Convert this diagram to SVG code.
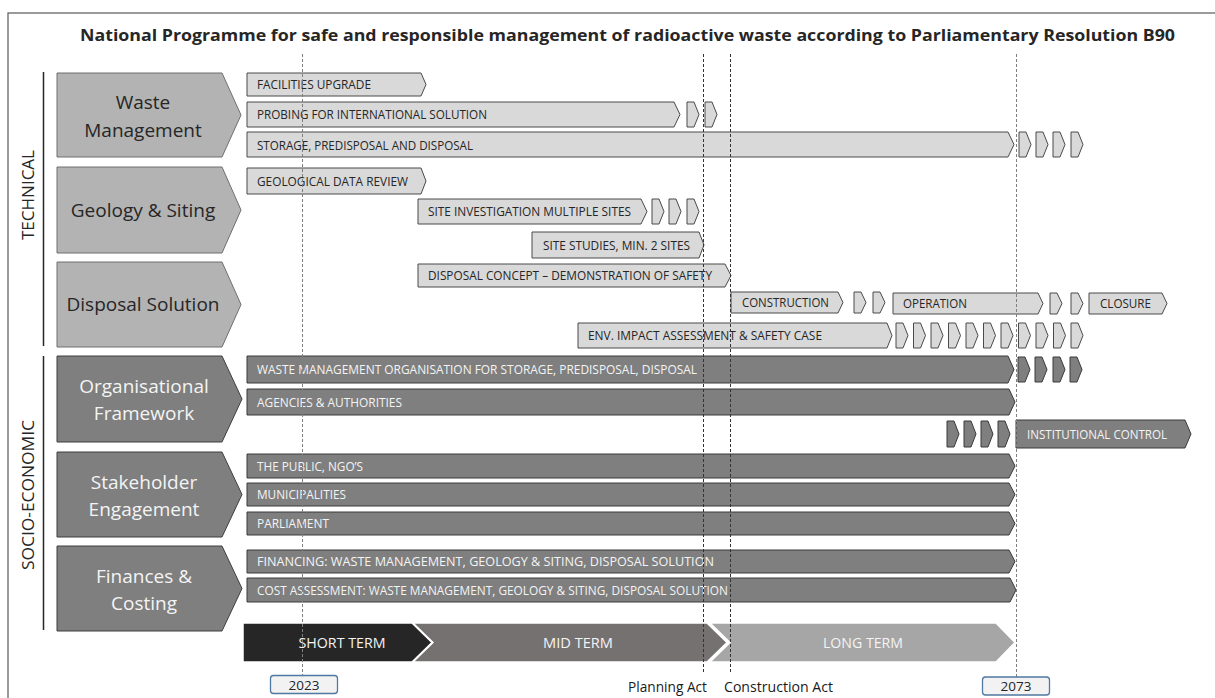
<svg xmlns="http://www.w3.org/2000/svg" width="1215" height="698" viewBox="0 0 1215 698">
<style>
text{font-family:"Open Sans","Noto Sans","Liberation Sans",sans-serif}
.title{font-size:16.5px;font-weight:bold;fill:#262626}
.side{font-size:16px;fill:#262626}
.cl{fill:#b3b3b3;stroke:#6f6f6f;stroke-width:1}
.cd{fill:#7f7f7f;stroke:#3f3f3f;stroke-width:1}
.clt{font-size:19px;fill:#262626;text-anchor:middle}
.cdt{font-size:19px;fill:#f4f4f4;text-anchor:middle}
.lb{fill:#d9d9d9;stroke:#4a4a4a;stroke-width:1}
.db{fill:#7f7f7f;stroke:#3a3a3a;stroke-width:1}
.lt{font-size:12px;fill:#262626}
.dt{font-size:12px;fill:#f4f4f4}
.tl{font-size:14.5px;fill:#f4f4f4;text-anchor:middle}
.yr{fill:#f2f2f2;stroke:#4f78a3;stroke-width:1.3}
.yt{font-size:13.5px;fill:#262626;text-anchor:middle}
.act{font-size:15px;fill:#1a1a1a}
.g1{stroke:#7f7f7f;stroke-width:1;stroke-dasharray:3 2;fill:none}
.g2{stroke:#333;stroke-width:1;stroke-dasharray:3 2;fill:none}
</style>
<rect x="0" y="0" width="1215" height="698" fill="#fff"/>
<rect x="8" y="13" width="1220" height="700" fill="none" stroke="#595959" stroke-width="1.2"/>
<text class="title" x="80" y="41" textLength="1095" lengthAdjust="spacingAndGlyphs">National Programme for safe and responsible management of radioactive waste according to Parliamentary Resolution B90</text>

<g id="side-labels">
<line x1="43.5" y1="72" x2="43.5" y2="346" stroke="#262626" stroke-width="1.5"/>
<line x1="43.5" y1="356" x2="43.5" y2="630" stroke="#262626" stroke-width="1.5"/>
<text class="side" transform="translate(34,195) rotate(-90)" text-anchor="middle" textLength="90" lengthAdjust="spacingAndGlyphs">TECHNICAL</text>
<text class="side" transform="translate(34,495) rotate(-90)" text-anchor="middle" textLength="150" lengthAdjust="spacingAndGlyphs">SOCIO-ECONOMIC</text>
</g>

<g id="waste-management">
<polygon class="cl" points="57,73 222,73 241,115 222,157 57,157"/>
<text class="clt" x="143" y="109">Waste</text>
<text class="clt" x="143" y="137">Management</text>
</g>
<g id="geology-siting">
<polygon class="cl" points="57,167 222,167 241,210 222,253 57,253"/>
<text class="clt" x="143" y="217">Geology &amp; Siting</text>
</g>
<g id="disposal-solution">
<polygon class="cl" points="57,262 222,262 241,304.5 222,347 57,347"/>
<text class="clt" x="143" y="311">Disposal Solution</text>
</g>
<g id="organisational-framework">
<polygon class="cd" points="57,356 222,356 242,399 222,442 57,442"/>
<text class="cdt" x="144" y="393">Organisational</text>
<text class="cdt" x="144" y="420">Framework</text>
</g>
<g id="stakeholder-engagement">
<polygon class="cd" points="57,452 222,452 242,494.5 222,537 57,537"/>
<text class="cdt" x="144" y="488.5">Stakeholder</text>
<text class="cdt" x="144" y="516">Engagement</text>
</g>
<g id="finances-costing">
<polygon class="cd" points="57,546 222,546 242,588.5 222,631 57,631"/>
<text class="cdt" x="144" y="582.5">Finances &amp;</text>
<text class="cdt" x="144" y="610">Costing</text>
</g>

<g id="facilities-upgrade">
<polygon class="lb" points="247,73 421,73 426,84.5 421,96 247,96"/>
<text class="lt" x="257" y="89" textLength="114" lengthAdjust="spacingAndGlyphs">FACILITIES UPGRADE</text>
</g>
<g id="probing">
<polygon class="lb" points="247,102 674,102 680,114.5 674,127 247,127"/>
<text class="lt" x="257" y="119" textLength="230" lengthAdjust="spacingAndGlyphs">PROBING FOR INTERNATIONAL SOLUTION</text>
<polygon class="lb" points="687,102 694,102 699,114.5 694,127 687,127"/>
<polygon class="lb" points="705,102 712,102 717,114.5 712,127 705,127"/>
</g>
<g id="storage">
<polygon class="lb" points="247,132 1008,132 1014,144.5 1008,157 247,157"/>
<text class="lt" x="257" y="149.5" textLength="216" lengthAdjust="spacingAndGlyphs">STORAGE, PREDISPOSAL AND DISPOSAL</text>
<polygon class="lb" points="1019,132 1026,132 1031,144.5 1026,157 1019,157"/>
<polygon class="lb" points="1036,132 1043,132 1048,144.5 1043,157 1036,157"/>
<polygon class="lb" points="1053,132 1060,132 1065,144.5 1060,157 1053,157"/>
<polygon class="lb" points="1071,132 1078,132 1083,144.5 1078,157 1071,157"/>
</g>
<g id="geological-data-review">
<polygon class="lb" points="247,168 421,168 426,181 421,194 247,194"/>
<text class="lt" x="257" y="185.5" textLength="151" lengthAdjust="spacingAndGlyphs">GEOLOGICAL DATA REVIEW</text>
</g>
<g id="site-investigation">
<polygon class="lb" points="418,199 641,199 647,211.5 641,224 418,224"/>
<text class="lt" x="428" y="216" textLength="203" lengthAdjust="spacingAndGlyphs">SITE INVESTIGATION MULTIPLE SITES</text>
<polygon class="lb" points="652,199 659,199 664,211.5 659,224 652,224"/>
<polygon class="lb" points="669,199 676,199 681,211.5 676,224 669,224"/>
<polygon class="lb" points="687,199 694,199 699,211.5 694,224 687,224"/>
</g>
<g id="site-studies">
<polygon class="lb" points="532,232 699,232 704,245 699,258 532,258"/>
<text class="lt" x="543" y="249.5" textLength="147" lengthAdjust="spacingAndGlyphs">SITE STUDIES, MIN. 2 SITES</text>
</g>
<g id="disposal-concept">
<polygon class="lb" points="418,264 725,264 731,275.5 725,287 418,287"/>
<text class="lt" x="428" y="280" textLength="284" lengthAdjust="spacingAndGlyphs">DISPOSAL CONCEPT – DEMONSTRATION OF SAFETY</text>
</g>
<g id="construction">
<polygon class="lb" points="731,292 838,292 843,302.5 838,313 731,313"/>
<text class="lt" x="742" y="307" textLength="87" lengthAdjust="spacingAndGlyphs">CONSTRUCTION</text>
<polygon class="lb" points="854,292 861,292 866,302.5 861,313 854,313"/>
<polygon class="lb" points="873,292 880,292 885,302.5 880,313 873,313"/>
</g>
<g id="operation">
<polygon class="lb" points="893,293 1038,293 1043,303.5 1038,314 893,314"/>
<text class="lt" x="903" y="308" textLength="64" lengthAdjust="spacingAndGlyphs">OPERATION</text>
<polygon class="lb" points="1050,293 1057,293 1062,303.5 1057,314 1050,314"/>
<polygon class="lb" points="1071,293 1078,293 1083,303.5 1078,314 1071,314"/>
</g>
<g id="closure">
<polygon class="lb" points="1089,293 1162,293 1167,303.5 1162,314 1089,314"/>
<text class="lt" x="1100" y="308" textLength="51" lengthAdjust="spacingAndGlyphs">CLOSURE</text>
</g>
<g id="env-impact">
<polygon class="lb" points="578,323 887,323 892,335.5 887,348 578,348"/>
<text class="lt" x="588" y="340" textLength="234" lengthAdjust="spacingAndGlyphs">ENV. IMPACT ASSESSMENT &amp; SAFETY CASE</text>
<polygon class="lb" points="896,323 903,323 908,335.5 903,348 896,348"/>
<polygon class="lb" points="913.5,323 920.5,323 925.5,335.5 920.5,348 913.5,348"/>
<polygon class="lb" points="931,323 938,323 943,335.5 938,348 931,348"/>
<polygon class="lb" points="948.5,323 955.5,323 960.5,335.5 955.5,348 948.5,348"/>
<polygon class="lb" points="966,323 973,323 978,335.5 973,348 966,348"/>
<polygon class="lb" points="983.5,323 990.5,323 995.5,335.5 990.5,348 983.5,348"/>
<polygon class="lb" points="1001,323 1008,323 1013,335.5 1008,348 1001,348"/>
<polygon class="lb" points="1018.5,323 1025.5,323 1030.5,335.5 1025.5,348 1018.5,348"/>
<polygon class="lb" points="1036,323 1043,323 1048,335.5 1043,348 1036,348"/>
<polygon class="lb" points="1053.5,323 1060.5,323 1065.5,335.5 1060.5,348 1053.5,348"/>
<polygon class="lb" points="1071,323 1078,323 1083,335.5 1078,348 1071,348"/>
</g>

<g id="waste-management-organisation">
<polygon class="db" points="247,356 1008,356 1014,369.5 1008,383 247,383"/>
<text class="dt" x="257" y="374" textLength="440" lengthAdjust="spacingAndGlyphs">WASTE MANAGEMENT ORGANISATION FOR STORAGE, PREDISPOSAL, DISPOSAL</text>
<polygon class="db" points="1018,357 1025,357 1030,369.5 1025,382 1018,382"/>
<polygon class="db" points="1035,357 1042,357 1047,369.5 1042,382 1035,382"/>
<polygon class="db" points="1053,357 1060,357 1065,369.5 1060,382 1053,382"/>
<polygon class="db" points="1070,357 1077,357 1082,369.5 1077,382 1070,382"/>
</g>
<g id="agencies-authorities">
<polygon class="db" points="247,389 1009,389 1015,402 1009,415 247,415"/>
<text class="dt" x="257" y="406.5" textLength="145" lengthAdjust="spacingAndGlyphs">AGENCIES &amp; AUTHORITIES</text>
</g>
<g id="institutional-control">
<polygon class="db" points="947,421 954,421 959,434 954,447 947,447"/>
<polygon class="db" points="964,421 971,421 976,434 971,447 964,447"/>
<polygon class="db" points="981,421 988,421 993,434 988,447 981,447"/>
<polygon class="db" points="998,421 1005,421 1010,434 1005,447 998,447"/>
<polygon class="db" points="1016,420 1185,420 1191,434 1185,448 1016,448"/>
<text class="dt" x="1027" y="438.5" textLength="140" lengthAdjust="spacingAndGlyphs">INSTITUTIONAL CONTROL</text>
</g>
<g id="the-public">
<polygon class="db" points="247,454 1009,454 1015,466 1009,478 247,478"/>
<text class="dt" x="257" y="470.5" textLength="106" lengthAdjust="spacingAndGlyphs">THE PUBLIC, NGO’S</text>
</g>
<g id="municipalities">
<polygon class="db" points="247,483 1009,483 1015,494.5 1009,506 247,506"/>
<text class="dt" x="257" y="499" textLength="89" lengthAdjust="spacingAndGlyphs">MUNICIPALITIES</text>
</g>
<g id="parliament">
<polygon class="db" points="247,512 1009,512 1015,523.5 1009,535 247,535"/>
<text class="dt" x="257" y="528" textLength="72" lengthAdjust="spacingAndGlyphs">PARLIAMENT</text>
</g>
<g id="financing">
<polygon class="db" points="247,550 1009,550 1015,561.5 1009,573 247,573"/>
<text class="dt" x="257" y="566" textLength="457" lengthAdjust="spacingAndGlyphs">FINANCING: WASTE MANAGEMENT, GEOLOGY &amp; SITING, DISPOSAL SOLUTION</text>
</g>
<g id="cost-assessment">
<polygon class="db" points="247,578 1010,578 1016,590 1010,602 247,602"/>
<text class="dt" x="257" y="594.5" textLength="471" lengthAdjust="spacingAndGlyphs">COST ASSESSMENT: WASTE MANAGEMENT, GEOLOGY &amp; SITING, DISPOSAL SOLUTION</text>
</g>

<g id="timeline">
<polygon points="243,623 412,623 432,642.5 412,662 243,662" fill="#262626" stroke="#fff" stroke-width="1.5"/>
<polygon points="413,623 707,623 727,642.5 707,662 413,662 433,642.5" fill="#767171" stroke="#fff" stroke-width="1.5"/>
<polygon points="710,623 996,623 1015,642.5 996,662 710,662 730,642.5" fill="#a6a6a6" stroke="#fff" stroke-width="1.5"/>
<text class="tl" x="342" y="648" textLength="87" lengthAdjust="spacingAndGlyphs">SHORT TERM</text>
<text class="tl" x="578" y="648" textLength="70" lengthAdjust="spacingAndGlyphs">MID TERM</text>
<text class="tl" x="863" y="648" textLength="80" lengthAdjust="spacingAndGlyphs">LONG TERM</text>
</g>

<g id="connectors">
<line class="g1" x1="302.5" y1="54" x2="302.5" y2="675"/>
<line class="g2" x1="703.5" y1="54" x2="703.5" y2="673"/>
<line class="g2" x1="730.5" y1="54" x2="730.5" y2="673"/>
<line class="g1" x1="1016.5" y1="54" x2="1016.5" y2="677"/>
</g>

<g id="year-2023">
<rect class="yr" x="270.5" y="675.5" width="67" height="18" rx="3"/>
<text class="yt" x="304" y="689.5">2023</text>
</g>
<g id="year-2073">
<rect class="yr" x="982.5" y="677" width="67" height="18" rx="3"/>
<text class="yt" x="1016" y="691">2073</text>
</g>
<g id="acts">
<text class="act" x="707" y="692" text-anchor="end" textLength="79" lengthAdjust="spacingAndGlyphs">Planning Act</text>
<text class="act" x="724" y="692" textLength="109" lengthAdjust="spacingAndGlyphs">Construction Act</text>
</g>
</svg>
